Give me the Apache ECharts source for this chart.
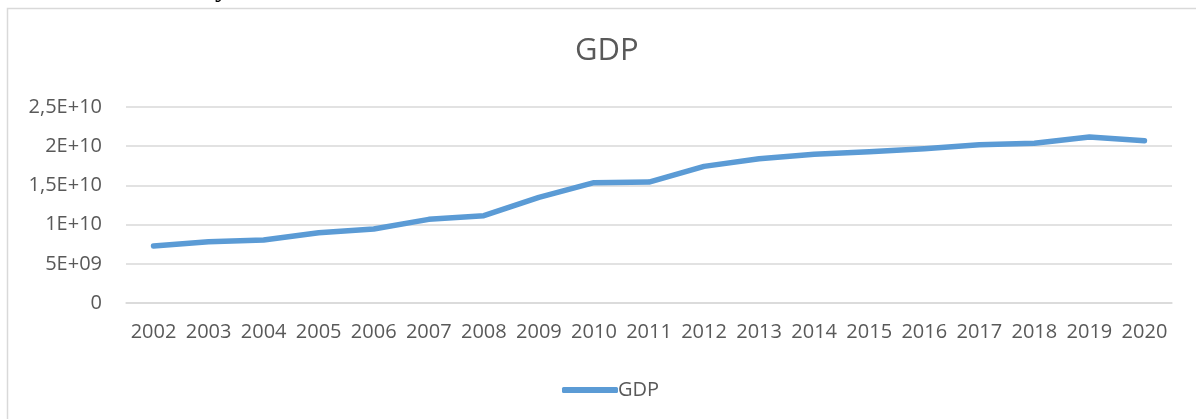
<!DOCTYPE html>
<html>
<head>
<meta charset="utf-8">
<script src="https://cdn.jsdelivr.net/npm/echarts@6/dist/echarts.min.js"></script>
<style>
  html, body { margin: 0; padding: 0; background: #fff; }
  #chart { width: 1196px; height: 419px; }
</style>
</head>
<body>
<div id="chart"></div>
<script>
const categories = ['2002','2003','2004','2005','2006','2007','2008','2009','2010','2011','2012','2013','2014','2015','2016','2017','2018','2019','2020'];
const gdpValues = [7.27e9, 7.82e9, 8.04e9, 8.97e9, 9.44e9, 10.67e9, 11.14e9, 13.48e9, 15.35e9, 15.43e9, 17.43e9, 18.41e9, 18.97e9, 19.30e9, 19.68e9, 20.19e9, 20.37e9, 21.17e9, 20.70e9];
const yTickValues = [0, 5e9, 1e10, 1.5e10, 2e10, 2.5e10];
const yTickLabels = ['0', '5E+09', '1E+10', '1,5E+10', '2E+10', '2,5E+10'];
const seriesName = 'GDP';
const titleText = 'GDP';

const FONT = '"Open Sans", "Noto Sans", sans-serif';
const TXT = '#595959';

const chart = echarts.init(document.getElementById('chart'), null, { renderer: 'canvas' });
chart.setOption({
  animation: false,
  backgroundColor: '#ffffff',
  title: {
    text: titleText,
    left: 570,
    top: 31,
    textStyle: { fontFamily: FONT, fontSize: 31, fontWeight: 'normal', color: TXT }
  },
  legend: {
    data: [{ name: seriesName, icon: 'roundRect' }],
    left: 557,
    top: 375,
    itemWidth: 56,
    itemHeight: 6,
    itemGap: 10,
    itemStyle: { color: '#5B9BD5', borderWidth: 0 },
    textStyle: { fontFamily: FONT, fontSize: 20, color: TXT, padding: [0, 0, 0, -5] }
  },
  grid: { left: 126, right: 24, top: 107, bottom: 116, containLabel: false },
  xAxis: {
    type: 'category',
    data: categories,
    boundaryGap: true,
    axisLine: { show: true, lineStyle: { color: '#d9d9d9', width: 1.5 } },
    axisTick: { show: false },
    axisLabel: { fontFamily: FONT, fontSize: 20, color: TXT, margin: 19, interval: 0 },
    splitLine: { show: false }
  },
  yAxis: {
    type: 'value',
    min: 0,
    max: 2.5e10,
    interval: 5e9,
    axisLine: { show: false },
    axisTick: { show: false },
    splitLine: { show: true, lineStyle: { color: '#d9d9d9', width: 1.5 } },
    axisLabel: {
      fontFamily: FONT, fontSize: 20, color: TXT, margin: 24,
      formatter: function (v) {
        const i = yTickValues.findIndex(t => Math.abs(t - v) < 1);
        return i >= 0 ? yTickLabels[i] : '';
      }
    }
  },
  series: [{
    name: seriesName,
    type: 'line',
    data: gdpValues,
    symbol: 'none',
    showSymbol: false,
    lineStyle: { color: '#5B9BD5', width: 5.5, cap: 'round', join: 'round' },
    itemStyle: { color: '#5B9BD5' }
  }],
  graphic: [
    {
      type: 'rect',
      shape: { x: 7.5, y: 8.5, width: 1300, height: 600 },
      style: { fill: 'none', stroke: '#d9d9d9', lineWidth: 1.5 },
      silent: true
    },
    {
      type: 'text',
      left: 215,
      top: -25,
      style: { text: 'y', font: '28px "Liberation Serif", serif', fill: '#000' },
      silent: true
    }
  ]
});
</script>
</body>
</html>
